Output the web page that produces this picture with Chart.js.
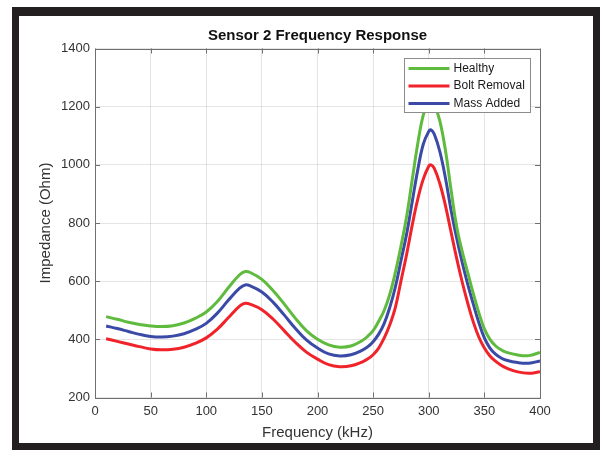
<!DOCTYPE html>
<html>
<head>
<meta charset="utf-8">
<title>Sensor 2 Frequency Response</title>
<script src="https://cdn.jsdelivr.net/npm/chart.js@4.4.1/dist/chart.umd.min.js"></script>
<style>
  html, body { margin: 0; padding: 0; background: #fff; }
  #frame {
    position: absolute; left: 12px; top: 7px; width: 588px; height: 443px;
    box-sizing: border-box; border-style: solid; border-color: #231f20;
    border-width: 9px 7px 7px 7px;
  }
  #wrap { position: absolute; left: 0; top: 0; width: 600px; height: 450px; }
</style>
</head>
<body>
<div id="frame"></div>
<div id="wrap"><canvas id="chart" width="600" height="450"></canvas></div>
<script>
const freqs = [10, 20, 30, 40, 50, 60, 70, 80, 90, 100, 110, 120, 130, 135, 140, 150, 160, 170, 180, 190,
  200, 210, 220, 230, 240, 245, 250, 255, 260, 265, 270, 275, 280, 285, 290, 295, 300, 302, 305, 310,
  315, 320, 325, 330, 335, 340, 345, 350, 355, 360, 365, 370, 380, 390, 400];
const healthy = [478, 469, 459, 451, 446, 444, 447, 456, 472, 494, 530, 578, 622, 633, 629, 606, 568, 522, 473, 430,
  400, 381, 373, 377, 395, 410, 430, 462, 500, 555, 630, 720, 820, 945, 1070, 1170, 1222, 1230, 1210, 1150,
  1050, 915, 790, 703, 630, 558, 492, 436, 400, 378, 364, 355, 346, 344, 355];
const boltRemoval = [402, 393, 384, 375, 367, 364, 366, 373, 386, 405, 435, 475, 514, 524, 520, 502, 470, 430, 390, 356,
  332, 313, 306, 309, 322, 332, 347, 370, 405, 450, 510, 600, 690, 790, 880, 950, 995, 1000, 988, 935,
  860, 770, 680, 598, 525, 460, 408, 370, 343, 325, 311, 301, 288, 283, 289];
const massAdded = [446, 437, 427, 417, 410, 408, 411, 419, 434, 455, 490, 535, 576, 587, 583, 563, 528, 484, 438, 398,
  370, 350, 343, 347, 362, 374, 392, 418, 455, 510, 580, 670, 760, 870, 980, 1070, 1115, 1120, 1105, 1045,
  955, 845, 750, 665, 590, 522, 458, 405, 370, 349, 336, 328, 320, 318, 326];

const seriesLabels = ["Healthy", "Bolt Removal", "Mass Added"];
const seriesColors = ["#5fbb3d", "#f0232a", "#3a4aa6"];
const seriesValues = [healthy, boltRemoval, massAdded];

const fontFamily = "'Liberation Sans', Arial, Helvetica, sans-serif";
Chart.defaults.font.family = fontFamily;
Chart.defaults.color = "#333";

const boxColor = "#707070";
const gridColor = "rgba(0, 0, 0, 0.1)";

// matlab style axes box with inward ticks, plus legend inside the plot
const matlabAxes = {
  id: "matlabAxes",
  afterDatasetsDraw(chart) {
    const { ctx, chartArea: a, scales } = chart;
    ctx.save();
    ctx.strokeStyle = boxColor;
    ctx.lineWidth = 1;
    ctx.strokeRect(Math.round(a.left) + 0.5, Math.round(a.top) + 0.5,
      Math.round(a.right - a.left), Math.round(a.bottom - a.top));
    const tl = 5;
    ctx.beginPath();
    scales.x.ticks.forEach((t) => {
      const px = Math.round(scales.x.getPixelForValue(t.value)) + 0.5;
      ctx.moveTo(px, a.bottom); ctx.lineTo(px, a.bottom - tl);
      ctx.moveTo(px, a.top); ctx.lineTo(px, a.top + tl);
    });
    scales.y.ticks.forEach((t) => {
      const py = Math.round(scales.y.getPixelForValue(t.value)) + 0.5;
      ctx.moveTo(a.left, py); ctx.lineTo(a.left + tl, py);
      ctx.moveTo(a.right, py); ctx.lineTo(a.right - tl, py);
    });
    ctx.stroke();
    ctx.restore();
  },
  afterDraw(chart) {
    const { ctx, chartArea: a } = chart;
    const w = 126, h = 54;
    const lx = Math.round(a.right - 10 - w) + 0.5;
    const ly = Math.round(a.top + 9) + 0.5;
    ctx.save();
    ctx.fillStyle = "#fff";
    ctx.fillRect(lx, ly, w, h);
    ctx.strokeStyle = "#8c8c8c";
    ctx.lineWidth = 1;
    ctx.strokeRect(lx, ly, w, h);
    ctx.font = "12px " + fontFamily;
    ctx.textBaseline = "middle";
    ctx.textAlign = "left";
    seriesLabels.forEach((label, i) => {
      const y = ly + 10 + i * 17.5;
      ctx.strokeStyle = seriesColors[i];
      ctx.lineWidth = 3;
      ctx.beginPath();
      ctx.moveTo(lx + 4, y);
      ctx.lineTo(lx + 45, y);
      ctx.stroke();
      ctx.fillStyle = "#1a1a1a";
      ctx.fillText(label, lx + 49, y);
    });
    ctx.restore();
  },
};

const datasets = seriesLabels.map((label, i) => ({
  label,
  data: freqs.map((f, j) => ({ x: f, y: seriesValues[i][j] })),
  borderColor: seriesColors[i],
  backgroundColor: seriesColors[i],
  borderWidth: 3,
  pointRadius: 0,
  tension: 0.4,
  fill: false,
}));

new Chart(document.getElementById("chart"), {
  type: "line",
  data: { datasets },
  options: {
    responsive: false,
    animation: false,
    layout: { padding: { left: 0, top: 0, right: 60, bottom: 0 } },
    plugins: {
      legend: { display: false },
      tooltip: { enabled: false },
      title: {
        display: true,
        fullSize: false,
        text: "Sensor 2 Frequency Response",
        color: "#111",
        font: { size: 15, weight: "bold" },
        padding: { top: 27, bottom: 3.5 },
      },
    },
    scales: {
      x: {
        type: "linear",
        min: 0,
        max: 400,
        ticks: { stepSize: 50, padding: 6, maxRotation: 0, font: { size: 13 }, color: "#333", callback: (v) => String(v) },
        grid: { color: gridColor, drawTicks: false },
        border: { display: false },
        title: {
          display: true,
          text: "Frequency (kHz)",
          color: "#333",
          font: { size: 15 },
          padding: { top: 0, bottom: 8 },
        },
        afterFit: (scale) => { scale.height = 52.5; },
      },
      y: {
        min: 200,
        max: 1400,
        ticks: { stepSize: 200, padding: 5, font: { size: 13 }, color: "#333", callback: (v) => String(v) },
        grid: { color: gridColor, drawTicks: false },
        border: { display: false },
        title: {
          display: true,
          text: "Impedance (Ohm)",
          color: "#333",
          font: { size: 15 },
          padding: { top: 37, bottom: 0 },
        },
        afterFit: (scale) => { scale.width = 95; },
      },
    },
  },
  plugins: [matlabAxes],
});
</script>
</body>
</html>
